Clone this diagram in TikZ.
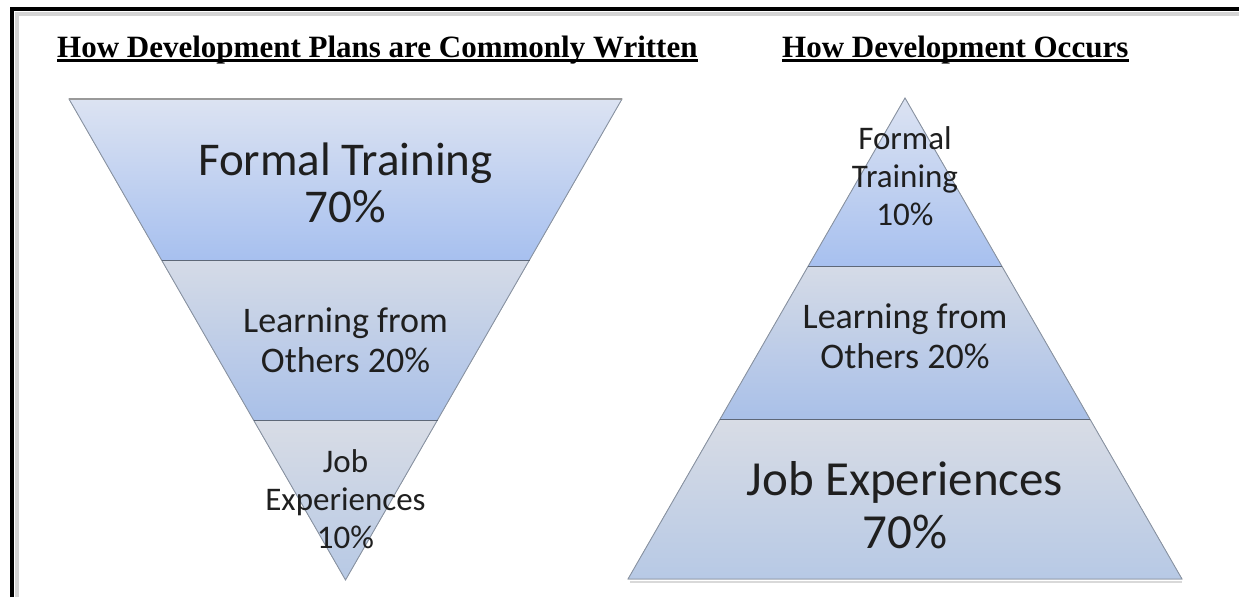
\documentclass[tikz,border=0pt]{standalone}
\usepackage{fontspec}
\setmainfont{Carlito}
\newfontfamily\titlefont{Liberation Serif}
\definecolor{bordgris}{HTML}{8A94A3}
\definecolor{trait}{HTML}{5E6878}
\definecolor{hautclair}{HTML}{DCE3F2}
\definecolor{hautbleu}{HTML}{A7C0EF}
\definecolor{milclair}{HTML}{D5DBE7}
\definecolor{milbleu}{HTML}{A9C0E8}
\definecolor{basclair}{HTML}{D8DCE5}
\definecolor{basbleu}{HTML}{B7C9E5}
\begin{document}
\begin{tikzpicture}[x=1pt,y=-1pt,
    heading/.style={anchor=base west,inner sep=0pt,font=\titlefont\bfseries\fontsize{31}{31}\selectfont},
    label/.style={anchor=base,align=center,inner sep=0pt,text=black!88},
    band/.style={draw=bordgris,line width=0.9pt},
    divider/.style={draw=trait,line width=1pt}]
\useasboundingbox (0,0) rectangle (1239,597);
% cadre
\draw[line width=4pt] (12,597) -- (12,9) -- (1239,9);
\draw[line width=4pt,black!17] (17,597) -- (17,14) -- (1239,14);
% titres
\node[heading] (titre1) at (57,57) {How Development Plans are Commonly Written};
\node[heading] (titre2) at (782,57) {How Development Occurs};
\draw[line width=2.5pt] ([yshift=-3.5pt]titre1.base west) -- ([yshift=-3.5pt]titre1.base east);
\draw[line width=2.5pt] ([yshift=-3.5pt]titre2.base west) -- ([yshift=-3.5pt]titre2.base east);
% entonnoir (gauche)
\def\myfunnel{(69,99) -- (622,99) -- (345.5,580) -- cycle}
\fill[top color=hautclair,bottom color=hautbleu] (69,99) -- (622,99) -- (529.5,260) -- (161.5,260) -- cycle;
\fill[top color=milclair,bottom color=milbleu] (161.5,260) -- (529.5,260) -- (437.5,420) -- (253.5,420) -- cycle;
\fill[top color=basclair,bottom color=basbleu] (253.5,420) -- (437.5,420) -- (345.5,580) -- cycle;
\draw[band] \myfunnel;
\draw[line width=1.5pt,black!40] (69,99) -- (622,99);
\draw[divider] (161.5,260) -- (529.5,260);
\draw[divider] (253.5,420) -- (437.5,420);
% pyramide (droite)
\def\mypyramid{(905,98) -- (1182,579) -- (628,579) -- cycle}
\fill[top color=hautclair,bottom color=hautbleu] (905,98) -- (1001.7,266) -- (808.3,266) -- cycle;
\fill[top color=milclair,bottom color=milbleu] (808.3,266) -- (1001.7,266) -- (1089.9,419) -- (720.1,419) -- cycle;
\fill[top color=basclair,bottom color=basbleu] (720.1,419) -- (1089.9,419) -- (1182,579) -- (628,579) -- cycle;
\draw[band] \mypyramid;
\draw[line width=2pt,black!15] (630,582) -- (1182,582);%ombre
\draw[divider] (808.3,266) -- (1001.7,266);
\draw[divider] (720.1,419) -- (1089.9,419);
% textes (ancre = ligne de base de la derniere ligne)
\node[label,font=\fontsize{47}{47}\selectfont] (formel1) at (345.5,222) {Formal Training\\70\%};
\node[label,font=\fontsize{36}{40}\selectfont] (autres1) at (345.5,372) {Learning from\\Others 20\%};
\node[label,font=\fontsize{33}{38}\selectfont] (emploi1) at (345.5,548) {Job\\Experiences\\10\%};
\node[label,font=\fontsize{33}{38}\selectfont] (formel2) at (905,225) {Formal\\Training\\10\%};
\node[label,font=\fontsize{36}{40}\selectfont] (autres2) at (905,368) {Learning from\\Others 20\%};
\node[label,font=\fontsize{49}{53}\selectfont] (emploi2) at (905,548) {Job Experiences\\70\%};
\end{tikzpicture}
\end{document}
